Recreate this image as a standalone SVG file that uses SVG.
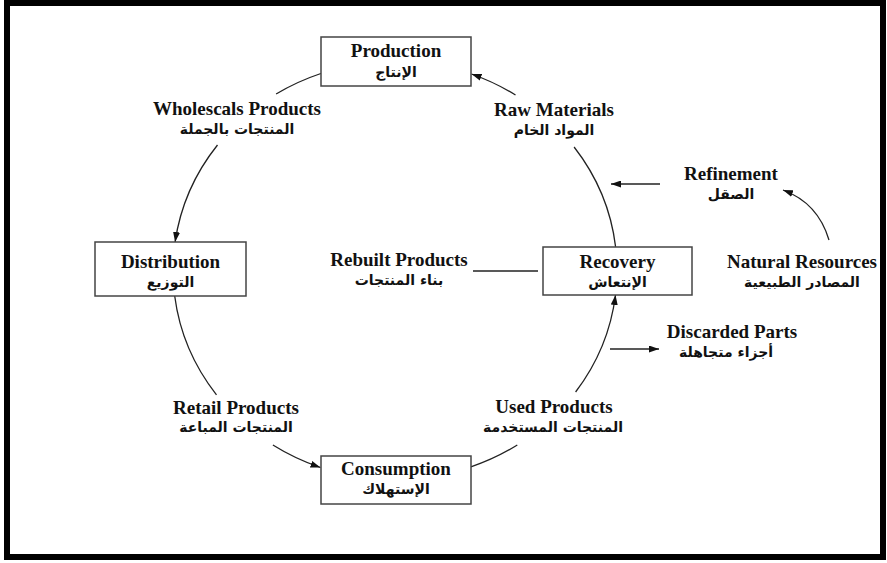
<svg xmlns="http://www.w3.org/2000/svg" width="887" height="563" viewBox="0 0 887 563">
  <style>
    .frame { fill: none; stroke: #000; stroke-width: 6; }
    .box { fill: #fff; stroke: #444; stroke-width: 1.5; }
    .en { font-family: "Liberation Serif", "Times New Roman", serif; font-weight: bold; font-size: 19px; fill: #111; text-anchor: middle; }
    .ar { font-family: "DejaVu Sans", sans-serif; font-weight: bold; font-size: 14px; fill: #111; text-anchor: middle; }
    .conn { fill: none; stroke: #222; stroke-width: 1.3; }
  </style>
  <defs>
    <marker id="arrow" markerUnits="userSpaceOnUse" markerWidth="10" markerHeight="7" refX="10" refY="3.5" orient="auto">
      <path d="M0,0 L10,3.5 L0,7 z" fill="#111"/>
    </marker>
  </defs>

  <rect x="0" y="0" width="887" height="563" fill="#fff"/>
  <rect class="frame" x="7" y="3" width="876" height="554"/>

  <!-- cycle arcs and side arrows -->
  <g id="connectors">
    <path class="conn" d="M320.9,73.5 A222,209 0 0 0 276.1,94"/>
    <path class="conn" d="M217.5,145 A222,209 0 0 0 175.1,242" marker-end="url(#arrow)"/>
    <path class="conn" d="M174.7,296 A222,209 0 0 0 216.5,394.8"/>
    <path class="conn" d="M272.9,445 A222,209 0 0 0 320.5,467.5" marker-end="url(#arrow)"/>
    <path class="conn" d="M470.9,466.9 A222,209 0 0 0 517.3,445"/>
    <path class="conn" d="M575.6,392 A222,209 0 0 0 615.5,295" marker-end="url(#arrow)"/>
    <path class="conn" d="M615.6,246.8 A222,209 0 0 0 574.1,147"/>
    <path class="conn" d="M515.5,95 A222,209 0 0 0 471.5,74" marker-end="url(#arrow)"/>
    <path class="conn" d="M660,184 L611,184" marker-end="url(#arrow)"/>
    <path class="conn" d="M829,240 Q818,203 783,190" marker-end="url(#arrow)"/>
    <path class="conn" d="M610,349 L659,349" marker-end="url(#arrow)"/>
    <path class="conn" d="M473,271 L538,271"/>
  </g>

  <g id="production">
    <rect class="box" x="321" y="37" width="150" height="49"/>
    <text class="en" x="396" y="57">Production</text>
    <text class="ar" x="396" y="77">الإنتاج</text>
  </g>
  <g id="distribution">
    <rect class="box" x="95" y="242" width="151" height="54"/>
    <text class="en" x="170.5" y="268">Distribution</text>
    <text class="ar" x="170.5" y="287">التوزيع</text>
  </g>
  <g id="recovery">
    <rect class="box" x="543" y="247" width="149" height="48"/>
    <text class="en" x="617.5" y="268">Recovery</text>
    <text class="ar" x="617.5" y="287">الإنتعاش</text>
  </g>
  <g id="consumption">
    <rect class="box" x="321" y="456" width="150" height="48"/>
    <text class="en" x="396" y="475">Consumption</text>
    <text class="ar" x="396" y="494">الإستهلاك</text>
  </g>

  <g id="wholesale-products">
    <text class="en" x="237" y="115">Wholescals Products</text>
    <text class="ar" x="237" y="134">المنتجات بالجملة</text>
  </g>
  <g id="raw-materials">
    <text class="en" x="554" y="116">Raw Materials</text>
    <text class="ar" x="554" y="135">المواد الخام</text>
  </g>
  <g id="refinement">
    <text class="en" x="731" y="180">Refinement</text>
    <text class="ar" x="731" y="199">الصقل</text>
  </g>
  <g id="natural-resources">
    <text class="en" x="802" y="268">Natural Resources</text>
    <text class="ar" x="802" y="287">المصادر الطبيعية</text>
  </g>
  <g id="rebuilt-products">
    <text class="en" x="399" y="266">Rebuilt Products</text>
    <text class="ar" x="399" y="285">بناء المنتجات</text>
  </g>
  <g id="discarded-parts">
    <text class="en" x="732" y="338">Discarded Parts</text>
    <text class="ar" x="726" y="357">أجزاء متجاهلة</text>
  </g>
  <g id="retail-products">
    <text class="en" x="236" y="414">Retail Products</text>
    <text class="ar" x="236" y="432">المنتجات المباعة</text>
  </g>
  <g id="used-products">
    <text class="en" x="554" y="413">Used Products</text>
    <text class="ar" x="553" y="432">المنتجات المستخدمة</text>
  </g>
</svg>
